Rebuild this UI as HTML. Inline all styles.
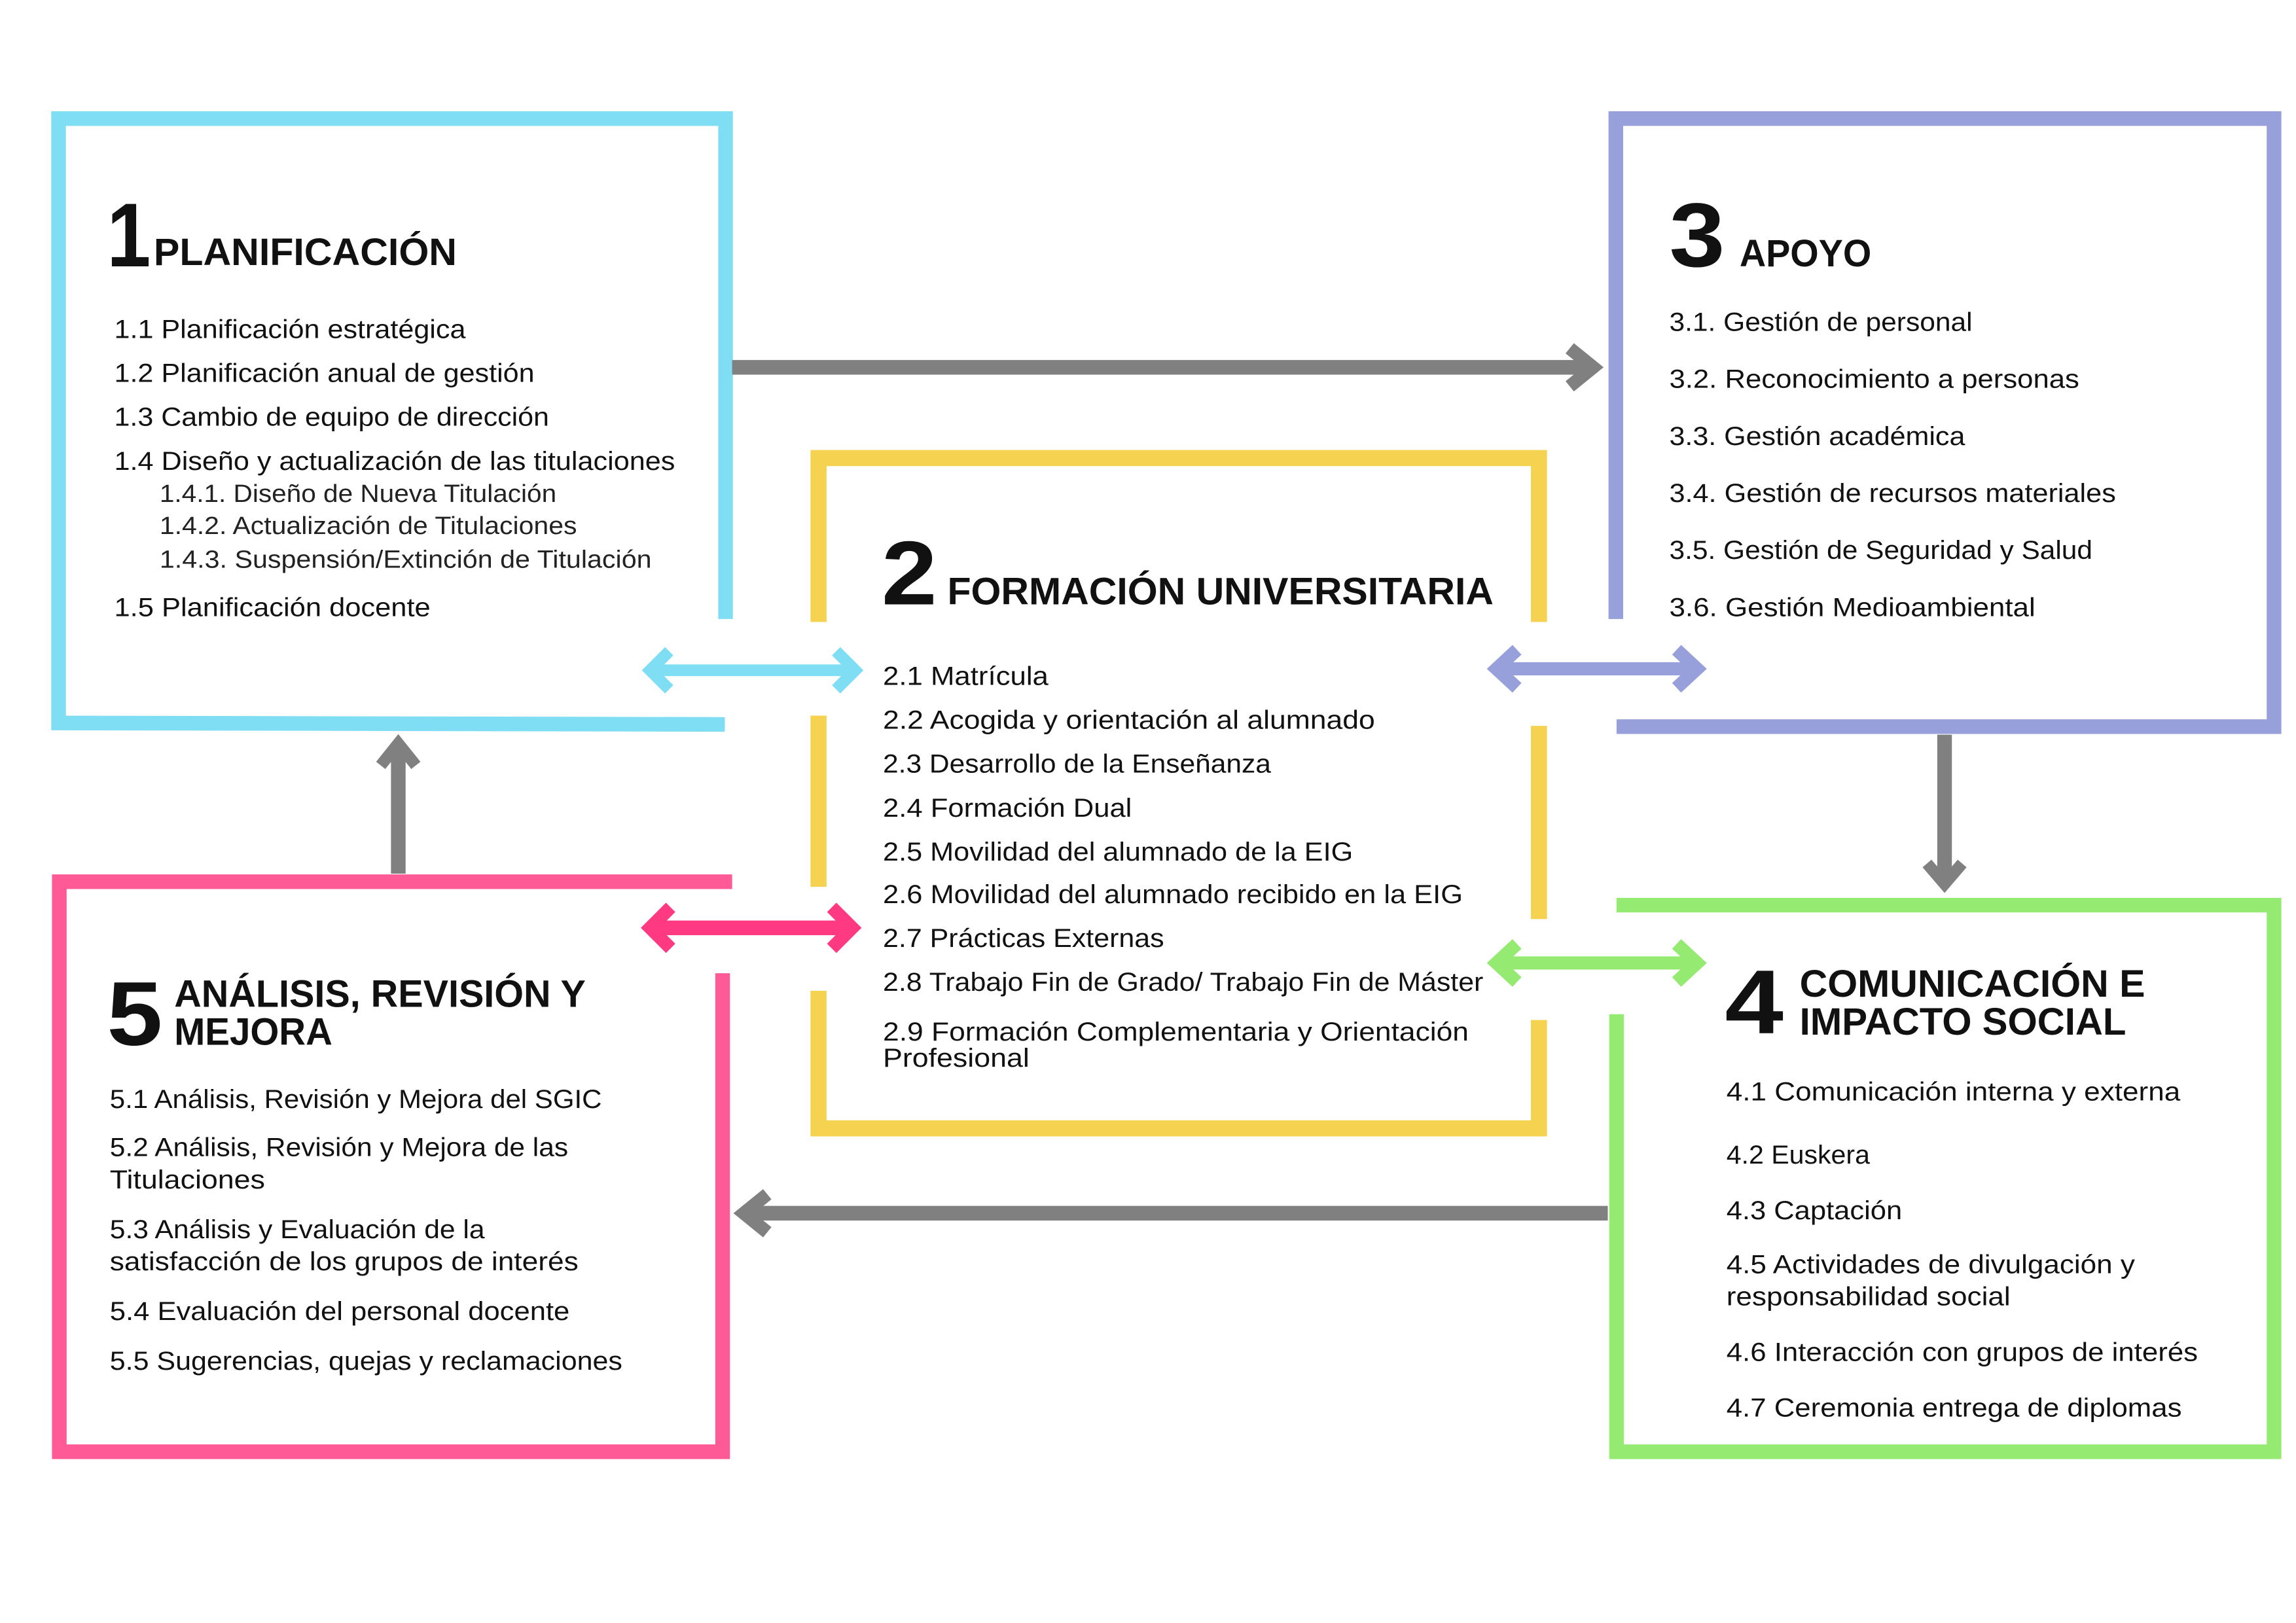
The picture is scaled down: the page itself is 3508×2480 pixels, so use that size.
<!DOCTYPE html>
<html><head><meta charset="utf-8"><style>
html,body{margin:0;padding:0;background:#fff;}
svg{display:block;}
text{font-family:"Liberation Sans",sans-serif;fill:#111;}
.i{font-size:18px;}
.s{font-size:17px;fill:#222;}
.t{font-size:26px;font-weight:bold;}
.n{font-size:62px;font-weight:bold;}
</style></head><body>
<svg width="3508" height="2480" viewBox="0 0 1568 1109" xmlns="http://www.w3.org/2000/svg" preserveAspectRatio="none">
<rect width="1568" height="1109" fill="#fff"/>
<g fill="none" stroke-linecap="butt">
<!-- cyan box -->
<polyline points="495.5,423 495.5,81 40,81 40,494 495,495" stroke="#80def4" stroke-width="10"/>
<!-- yellow box -->
<polyline points="559,425 559,313 1051,313 1051,425" stroke="#f5d350" stroke-width="11"/>
<line x1="559" y1="489" x2="559" y2="606" stroke="#f5d350" stroke-width="11"/>
<line x1="1051" y1="496" x2="1051" y2="628" stroke="#f5d350" stroke-width="11"/>
<polyline points="559,677 559,771 1051,771 1051,697" stroke="#f5d350" stroke-width="11"/>
<!-- purple box -->
<polyline points="1103.5,423 1103.5,81 1553,81 1553,496.5 1104,496.5" stroke="#97a0da" stroke-width="10"/>
<!-- green box -->
<polyline points="1104,618.5 1553,618.5 1553,992 1104,992 1104,693" stroke="#95ea72" stroke-width="10"/>
<!-- pink box -->
<polyline points="500,602.5 40.5,602.5 40.5,992 493.5,992 493.5,665" stroke="#fe5a96" stroke-width="10"/>
<!-- gray arrows -->
<g stroke="#808080" stroke-width="10">
<line x1="500" y1="251" x2="1088" y2="251"/>
<polyline points="1072,238 1088,251 1072,264" stroke-width="9"/>
<line x1="272" y1="597" x2="272" y2="508"/>
<polyline points="260,523 272,508 284,523" stroke-width="8"/>
<line x1="1328" y1="502" x2="1328" y2="604"/>
<polyline points="1316,590 1328,604 1340,590" stroke-width="8"/>
<line x1="1098" y1="829" x2="508" y2="829"/>
<polyline points="524,816 508,829 524,842" stroke-width="9"/>
</g>
<!-- double arrows -->
<g stroke="#80def4"><line x1="444" y1="458" x2="584" y2="458" stroke-width="8"/><polyline points="457,445 444,458 457,471" stroke-width="8"/><polyline points="571,445 584,458 571,471" stroke-width="8"/></g>
<g stroke="#97a0da"><line x1="1022" y1="457" x2="1159" y2="457" stroke-width="9"/><polyline points="1036,444 1022,457 1036,470" stroke-width="9"/><polyline points="1145,444 1159,457 1145,470" stroke-width="9"/></g>
<g stroke="#ff3a82"><line x1="444" y1="634" x2="582" y2="634" stroke-width="10"/><polyline points="458,620 444,634 458,648" stroke-width="9"/><polyline points="568,620 582,634 568,648" stroke-width="9"/></g>
<g stroke="#95ea72"><line x1="1022" y1="658" x2="1159" y2="658" stroke-width="9"/><polyline points="1036,645 1022,658 1036,671" stroke-width="9"/><polyline points="1145,645 1159,658 1145,671" stroke-width="9"/></g>
</g>

<!-- Box 1 -->
<text class="n" x="73" y="182" textLength="30" lengthAdjust="spacingAndGlyphs">1</text>
<text class="t" x="105" y="181" textLength="207" lengthAdjust="spacingAndGlyphs">PLANIFICACIÓN</text>
<text class="i" x="78" y="231" textLength="240" lengthAdjust="spacingAndGlyphs">1.1 Planificación estratégica</text>
<text class="i" x="78" y="261" textLength="287" lengthAdjust="spacingAndGlyphs">1.2 Planificación anual de gestión</text>
<text class="i" x="78" y="291" textLength="297" lengthAdjust="spacingAndGlyphs">1.3 Cambio de equipo de dirección</text>
<text class="i" x="78" y="321" textLength="383" lengthAdjust="spacingAndGlyphs">1.4 Diseño y actualización de las titulaciones</text>
<text class="s" x="109" y="343" textLength="271" lengthAdjust="spacingAndGlyphs">1.4.1. Diseño de Nueva Titulación</text>
<text class="s" x="109" y="365" textLength="285" lengthAdjust="spacingAndGlyphs">1.4.2. Actualización de Titulaciones</text>
<text class="s" x="109" y="388" textLength="336" lengthAdjust="spacingAndGlyphs">1.4.3. Suspensión/Extinción de Titulación</text>
<text class="i" x="78" y="421" textLength="216" lengthAdjust="spacingAndGlyphs">1.5 Planificación docente</text>

<!-- Box 3 -->
<text class="n" x="1140" y="182" textLength="38" lengthAdjust="spacingAndGlyphs">3</text>
<text class="t" x="1188" y="182" textLength="90" lengthAdjust="spacingAndGlyphs">APOYO</text>
<text class="i" x="1140" y="226" textLength="207" lengthAdjust="spacingAndGlyphs">3.1. Gestión de personal</text>
<text class="i" x="1140" y="265" textLength="280" lengthAdjust="spacingAndGlyphs">3.2. Reconocimiento a personas</text>
<text class="i" x="1140" y="304" textLength="202" lengthAdjust="spacingAndGlyphs">3.3. Gestión académica</text>
<text class="i" x="1140" y="343" textLength="305" lengthAdjust="spacingAndGlyphs">3.4. Gestión de recursos materiales</text>
<text class="i" x="1140" y="382" textLength="289" lengthAdjust="spacingAndGlyphs">3.5. Gestión de Seguridad y Salud</text>
<text class="i" x="1140" y="421" textLength="250" lengthAdjust="spacingAndGlyphs">3.6. Gestión Medioambiental</text>

<!-- Box 2 -->
<text class="n" x="602" y="413" textLength="38" lengthAdjust="spacingAndGlyphs">2</text>
<text class="t" x="647" y="413" textLength="373" lengthAdjust="spacingAndGlyphs">FORMACIÓN UNIVERSITARIA</text>
<text class="i" x="603" y="468" textLength="113" lengthAdjust="spacingAndGlyphs">2.1 Matrícula</text>
<text class="i" x="603" y="498" textLength="336" lengthAdjust="spacingAndGlyphs">2.2 Acogida y orientación al alumnado</text>
<text class="i" x="603" y="528" textLength="265" lengthAdjust="spacingAndGlyphs">2.3 Desarrollo de la Enseñanza</text>
<text class="i" x="603" y="558" textLength="170" lengthAdjust="spacingAndGlyphs">2.4 Formación Dual</text>
<text class="i" x="603" y="588" textLength="321" lengthAdjust="spacingAndGlyphs">2.5 Movilidad del alumnado de la EIG</text>
<text class="i" x="603" y="617" textLength="396" lengthAdjust="spacingAndGlyphs">2.6 Movilidad del alumnado recibido en la EIG</text>
<text class="i" x="603" y="647" textLength="192" lengthAdjust="spacingAndGlyphs">2.7 Prácticas Externas</text>
<text class="i" x="603" y="677" textLength="410" lengthAdjust="spacingAndGlyphs">2.8 Trabajo Fin de Grado/ Trabajo Fin de Máster</text>
<text class="i" x="603" y="711" textLength="400" lengthAdjust="spacingAndGlyphs">2.9 Formación Complementaria y Orientación</text>
<text class="i" x="603" y="729" textLength="100" lengthAdjust="spacingAndGlyphs">Profesional</text>

<!-- Box 5 -->
<text class="n" x="73" y="714" textLength="38" lengthAdjust="spacingAndGlyphs">5</text>
<text class="t" x="119" y="688" textLength="281" lengthAdjust="spacingAndGlyphs">ANÁLISIS, REVISIÓN Y</text>
<text class="t" x="119" y="714" textLength="108" lengthAdjust="spacingAndGlyphs">MEJORA</text>
<text class="i" x="75" y="757" textLength="336" lengthAdjust="spacingAndGlyphs">5.1 Análisis, Revisión y Mejora del SGIC</text>
<text class="i" x="75" y="790" textLength="313" lengthAdjust="spacingAndGlyphs">5.2 Análisis, Revisión y Mejora de las</text>
<text class="i" x="75" y="812" textLength="106" lengthAdjust="spacingAndGlyphs">Titulaciones</text>
<text class="i" x="75" y="846" textLength="256" lengthAdjust="spacingAndGlyphs">5.3 Análisis y Evaluación de la</text>
<text class="i" x="75" y="868" textLength="320" lengthAdjust="spacingAndGlyphs">satisfacción  de los grupos de interés</text>
<text class="i" x="75" y="902" textLength="314" lengthAdjust="spacingAndGlyphs">5.4 Evaluación del personal docente</text>
<text class="i" x="75" y="936" textLength="350" lengthAdjust="spacingAndGlyphs">5.5 Sugerencias, quejas y reclamaciones</text>

<!-- Box 4 -->
<text class="n" x="1178" y="706" textLength="40" lengthAdjust="spacingAndGlyphs">4</text>
<text class="t" x="1229" y="681" textLength="236" lengthAdjust="spacingAndGlyphs">COMUNICACIÓN E</text>
<text class="t" x="1229" y="707" textLength="223" lengthAdjust="spacingAndGlyphs">IMPACTO SOCIAL</text>
<text class="i" x="1179" y="752" textLength="310" lengthAdjust="spacingAndGlyphs">4.1 Comunicación interna y externa</text>
<text class="i" x="1179" y="795" textLength="98" lengthAdjust="spacingAndGlyphs">4.2 Euskera</text>
<text class="i" x="1179" y="833" textLength="120" lengthAdjust="spacingAndGlyphs">4.3 Captación</text>
<text class="i" x="1179" y="870" textLength="279" lengthAdjust="spacingAndGlyphs">4.5 Actividades de divulgación y</text>
<text class="i" x="1179" y="892" textLength="194" lengthAdjust="spacingAndGlyphs">responsabilidad social</text>
<text class="i" x="1179" y="930" textLength="322" lengthAdjust="spacingAndGlyphs">4.6 Interacción con grupos de interés</text>
<text class="i" x="1179" y="968" textLength="311" lengthAdjust="spacingAndGlyphs">4.7 Ceremonia entrega de diplomas</text>
</svg>
</body></html>
